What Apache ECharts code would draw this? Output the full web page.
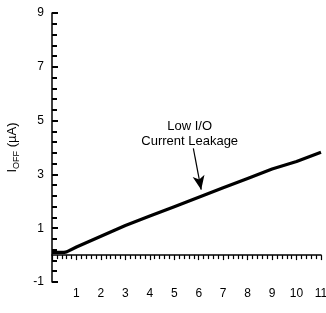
<!DOCTYPE html>
<html>
    <head>
        <meta charset="utf-8">
        <script src="https://cdn.jsdelivr.net/npm/echarts@6/dist/echarts.min.js"></script>
        <style>
            body { margin: 0; background: #fff; }
        </style>
    </head>

    <body>
    <div id="chart" style="width: 326px;height:313px;"></div>
    </body>
    <script>
        // V_OFF (volts) and I_OFF (uA)
        const vOff = [0, 0.5, 0.6, 1, 2, 3, 4, 5, 6, 7, 8, 9, 10, 11];
        const iOff = [0.1, 0.1, 0.12, 0.3, 0.7, 1.1, 1.45, 1.8, 2.15, 2.5, 2.85, 3.2, 3.48, 3.82];
        // y tick labels -1, 1, 3 ... 9
        const yTicks = [-1, 1, 3, 5, 7, 9];
        // annotation: arrow from tail to tip, text centre
        const arrowFrom = [5.78, 3.97];
        const arrowTo = [6.1, 2.43];
        const noteAt = [5.63, 4.52];
        const noteText = 'Low I/O\nCurrent Leakage';

        const font = 'Liberation Sans, Arial, Helvetica, sans-serif';
        const yMin = yTicks[0], yMax = yTicks[yTicks.length - 1];

        option = {
            animation: false,
            backgroundColor: '#fff',
            textStyle: {fontFamily: font, color: '#000'},
            grid: {left: 52, right: 5, top: 13, bottom: 31, outerBoundsMode: 'none', containLabel: false},
            xAxis: {
                type: 'value',
                min: 0, max: 11, interval: 1,
                axisLine: {onZero: true, onZeroAxisIndex: 0, lineStyle: {color: '#000', width: 1.5}},
                axisTick: {show: true, inside: false, length: 5, lineStyle: {color: '#000', width: 1.2}},
                minorTick: {show: true, splitNumber: 5, length: 4, lineStyle: {color: '#000', width: 1.2}},
                axisLabel: {
                    color: '#000', fontSize: 12, fontFamily: font, margin: 6,
                    formatter: function (v) { return v === 0 ? '' : String(v); }
                },
                splitLine: {show: false},
                name: '{a|V}{s|OFF}{a| (volts)}',
                nameLocation: 'middle',
                nameGap: 36,
                nameTextStyle: {
                    rich: {
                        a: {fontSize: 13, fontFamily: font, color: '#000', verticalAlign: 'bottom'},
                        s: {fontSize: 9, fontFamily: font, color: '#000', verticalAlign: 'bottom', padding: [0, 0, -2, 0]}
                    }
                }
            },
            yAxis: [
                {
                    // data axis, real values
                    type: 'value', position: 'left',
                    min: yMin, max: yMax,
                    axisLine: {show: false}, axisTick: {show: false},
                    axisLabel: {show: false}, splitLine: {show: false}
                },
                {
                    // tick axis over the same span, labelled -1 .. 9
                    type: 'value', position: 'left',
                    min: 0, max: yMax - yMin, interval: 2,
                    axisLine: {show: true, onZero: false, lineStyle: {color: '#000', width: 1.5}},
                    axisTick: {show: true, inside: true, length: 6, lineStyle: {color: '#000', width: 2}},
                    minorTick: {show: true, splitNumber: 5, length: 5, lineStyle: {color: '#000', width: 2}},
                    axisLabel: {
                        color: '#000', fontSize: 12, fontFamily: font, margin: 8,
                        formatter: function (v) { return String(v + yMin); }
                    },
                    splitLine: {show: false},
                    name: '{a|I}{s|OFF}{a| (µA)}',
                    nameLocation: 'middle',
                    nameRotate: 90,
                    nameGap: 33,
                    nameTextStyle: {
                        rich: {
                            a: {fontSize: 13, fontFamily: font, color: '#000', verticalAlign: 'bottom'},
                            s: {fontSize: 9, fontFamily: font, color: '#000', verticalAlign: 'bottom', padding: [0, 0, -2, 0]}
                        }
                    }
                }
            ],
            series: [
                {
                    type: 'line',
                    yAxisIndex: 0,
                    data: vOff.map(function (v, i) { return [v, iOff[i]]; }),
                    showSymbol: false,
                    lineStyle: {color: '#000', width: 3.2},
                    markLine: {
                        silent: true,
                        symbol: ['none', 'arrow'],
                        symbolSize: [9, 14],
                        label: {show: false},
                        lineStyle: {color: '#000', width: 1.2, type: 'solid'},
                        data: [[{coord: arrowFrom}, {coord: arrowTo}]]
                    },
                    markPoint: {
                        silent: true,
                        symbolSize: 0,
                        label: {
                            show: true, position: 'inside',
                            formatter: noteText,
                            color: '#000', fontSize: 13, fontFamily: font,
                            lineHeight: 15, align: 'center'
                        },
                        data: [{coord: noteAt}]
                    }
                }
            ]
        };
        myChart = echarts.init(document.getElementById('chart'));
        myChart.setOption(option);
    </script>
</html>
